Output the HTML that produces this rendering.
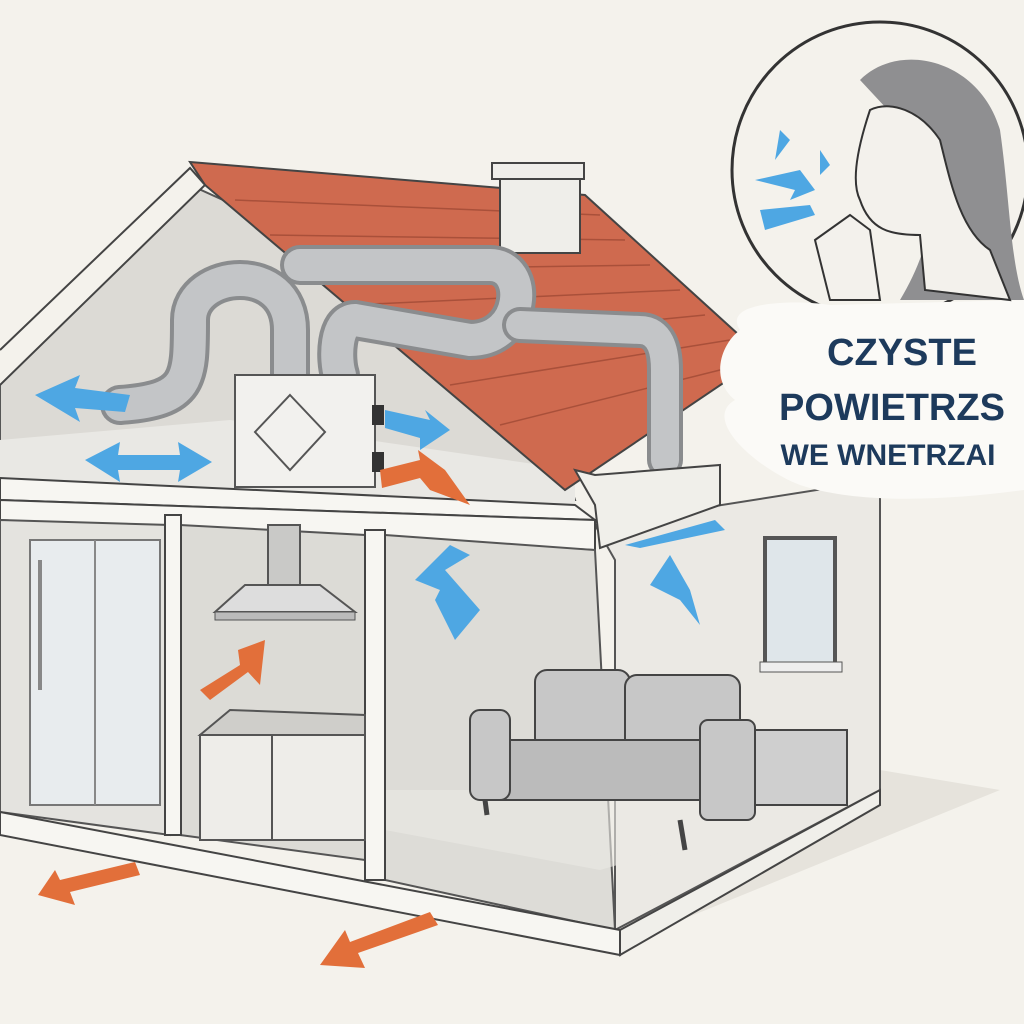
<!DOCTYPE html>
<html><head><meta charset="utf-8"><style>
html,body{margin:0;padding:0;background:#f4f2ec;}
svg{display:block}
text{font-family:"Liberation Sans",sans-serif;font-weight:bold;fill:#1d3a5c}
</style></head><body>
<svg width="1024" height="1024" viewBox="0 0 1024 1024" xmlns="http://www.w3.org/2000/svg">
<rect width="1024" height="1024" fill="#f4f2ec"/>
<!-- ground shadow -->
<polygon points="0,820 620,945 1000,790 880,770 610,930 0,810" fill="#e6e3dc"/>
<!-- right outer wall -->
<polygon points="595,525 880,480 880,790 615,930 615,560" fill="#ebe9e4" stroke="#555" stroke-width="2"/>
<!-- attic interior -->
<polygon points="0,380 190,185 245,210 565,470 575,500 0,480" fill="#dcdad5" stroke="#555" stroke-width="2"/>
<polygon points="0,440 230,420 575,470 575,505 0,480" fill="#e9e8e4"/>
<!-- roof -->
<polygon points="190,162 585,195 750,345 750,365 565,490 205,185" fill="#cf6a4f" stroke="#444" stroke-width="2"/>
<g stroke="#a9503a" stroke-width="1.5">
<line x1="235" y1="200" x2="600" y2="215"/><line x1="270" y1="235" x2="625" y2="240"/>
<line x1="310" y1="270" x2="650" y2="265"/><line x1="350" y1="305" x2="680" y2="290"/>
<line x1="400" y1="345" x2="705" y2="315"/><line x1="450" y1="385" x2="730" y2="340"/>
<line x1="500" y1="425" x2="740" y2="365"/>
</g>
<!-- chimney -->
<rect x="500" y="175" width="80" height="78" fill="#efeeea" stroke="#444" stroke-width="2"/>
<rect x="492" y="163" width="92" height="16" fill="#efeeea" stroke="#444" stroke-width="2"/>
<!-- gable trim -->
<polyline points="0,350 190,168 205,185 0,385" fill="#f4f2ec" stroke="#444" stroke-width="2"/>
<!-- ducts -->
<g fill="none" stroke-linecap="round">
<path d="M120,405 C190,400 190,380 190,320 C190,270 290,260 290,330 L290,380" stroke="#8a8c8e" stroke-width="40"/>
<path d="M120,405 C190,400 190,380 190,320 C190,270 290,260 290,330 L290,380" stroke="#c3c5c7" stroke-width="32"/>
<path d="M300,265 L490,265 C530,265 525,340 470,340 L355,320 C335,320 335,360 340,375" stroke="#8a8c8e" stroke-width="40"/>
<path d="M300,265 L490,265 C530,265 525,340 470,340 L355,320 C335,320 335,360 340,375" stroke="#c3c5c7" stroke-width="32"/>
<path d="M520,325 L640,330 C660,330 665,350 665,370 L665,460" stroke="#8a8c8e" stroke-width="36"/>
<path d="M520,325 L640,330 C660,330 665,350 665,370 L665,460" stroke="#c3c5c7" stroke-width="28"/>
</g>
<!-- unit -->
<rect x="235" y="375" width="140" height="112" fill="#f2f1ee" stroke="#555" stroke-width="2"/>
<polygon points="290,395 325,432 290,470 255,432" fill="none" stroke="#555" stroke-width="2"/>
<rect x="372" y="405" width="12" height="20" fill="#333"/><rect x="372" y="452" width="12" height="20" fill="#333"/>
<!-- floor slab -->
<polygon points="0,478 575,505 595,520 0,500" fill="#f7f6f2" stroke="#444" stroke-width="2"/>
<polygon points="575,470 595,475 720,465 720,505 600,548 595,505" fill="#f0efea" stroke="#444" stroke-width="2"/>
<polygon points="0,500 595,520 595,550 0,520" fill="#f7f6f2" stroke="#444" stroke-width="2"/>
<!-- rooms -->
<polygon points="0,520 170,525 170,835 0,812" fill="#e4e3df" stroke="#555" stroke-width="2"/>
<polygon points="180,525 365,535 365,860 180,835" fill="#dcdbd6" stroke="#555" stroke-width="2"/>
<polygon points="385,535 595,550 615,930 385,880" fill="#dddcd7" stroke="#555" stroke-width="2"/>
<polygon points="385,830 600,870 880,790 385,790" fill="#ebe9e4" opacity=".6"/>
<!-- walls posts -->
<rect x="165" y="515" width="16" height="320" fill="#f7f6f2" stroke="#444" stroke-width="2"/>
<rect x="365" y="530" width="20" height="350" fill="#f7f6f2" stroke="#444" stroke-width="2"/>
<!-- bottom slab -->
<polygon points="0,812 620,930 620,955 0,835" fill="#f7f6f2" stroke="#444" stroke-width="2"/>
<polygon points="620,930 880,790 880,805 620,955" fill="#f0efea" stroke="#444" stroke-width="2"/>
<!-- shower -->
<rect x="30" y="540" width="130" height="265" fill="#e8ecee" stroke="#777" stroke-width="2"/>
<line x1="95" y1="540" x2="95" y2="805" stroke="#888" stroke-width="2"/>
<line x1="40" y1="560" x2="40" y2="690" stroke="#888" stroke-width="4"/>
<!-- hood -->
<rect x="268" y="525" width="32" height="60" fill="#c9c9c7" stroke="#555" stroke-width="2"/>
<polygon points="245,585 320,585 355,612 215,612" fill="#ddd" stroke="#555" stroke-width="2"/>
<rect x="215" y="612" width="140" height="8" fill="#bbb" stroke="#555"/>
<!-- cabinet -->
<polygon points="200,735 230,710 365,715 365,740" fill="#cfceca" stroke="#555" stroke-width="2"/>
<rect x="200" y="735" width="165" height="105" fill="#eeede9" stroke="#555" stroke-width="2"/>
<line x1="272" y1="735" x2="272" y2="840" stroke="#555" stroke-width="2"/>
<!-- window -->
<rect x="765" y="538" width="70" height="128" fill="#dfe6ea" stroke="#555" stroke-width="4"/>
<rect x="760" y="662" width="82" height="10" fill="#eee" stroke="#555"/>
<!-- sofa -->
<rect x="535" y="670" width="95" height="80" rx="12" fill="#c7c7c7" stroke="#444" stroke-width="2"/>
<rect x="625" y="675" width="115" height="80" rx="12" fill="#c7c7c7" stroke="#444" stroke-width="2"/>
<rect x="485" y="740" width="270" height="60" fill="#bbb" stroke="#444" stroke-width="2"/>
<rect x="470" y="710" width="40" height="90" rx="10" fill="#c7c7c7" stroke="#444" stroke-width="2"/>
<rect x="700" y="720" width="55" height="100" rx="8" fill="#c7c7c7" stroke="#444" stroke-width="2"/>
<rect x="755" y="730" width="92" height="75" fill="#cfcfcf" stroke="#444" stroke-width="2"/>
<line x1="680" y1="820" x2="685" y2="850" stroke="#444" stroke-width="5"/>
<line x1="485" y1="800" x2="487" y2="815" stroke="#444" stroke-width="5"/>
<!-- arrows blue -->
<g fill="#4ea7e3">
<polygon points="35,395 80,375 75,388 130,395 125,412 75,408 80,422"/>
<polygon points="85,460 120,442 118,455 180,455 178,442 212,462 178,482 180,470 118,470 120,482"/>
<polygon points="385,410 430,420 425,410 450,430 420,450 420,438 385,428"/>
<polygon points="415,580 450,545 470,555 445,570 480,610 455,640 435,600 440,590"/>
<polygon points="625,545 715,520 725,530 640,548"/>
<polygon points="650,585 670,555 690,590 700,625 680,600"/>
</g>
<!-- arrows orange -->
<g fill="#e26f3a">
<polygon points="380,470 420,460 418,450 445,470 470,505 430,490 420,478 382,488"/>
<polygon points="200,690 240,665 238,650 265,640 260,685 248,672 210,700"/>
<polygon points="38,895 55,870 60,880 135,862 140,875 70,892 75,905"/>
<polygon points="320,965 345,930 350,942 430,912 438,925 358,953 365,968"/>
</g>
<!-- bubble -->
<circle cx="880" cy="170" r="148" fill="#f4f2ec" stroke="#333" stroke-width="3"/>
<path d="M740,330 C720,300 800,300 830,305 L1024,300 L1024,490 C950,500 860,505 800,485 C760,470 700,420 735,400 C710,380 720,345 740,330Z" fill="#fbfaf7"/>
<!-- woman simplified -->
<path d="M860,80 C900,40 980,60 1000,130 C1010,200 1010,260 1024,300 L900,300 C930,250 940,200 925,150 Z" fill="#8f8f91"/>
<path d="M870,110 C860,140 850,180 860,200 C870,230 890,235 920,235 L925,290 L1010,300 L990,250 C960,230 950,180 940,140 C920,110 890,100 870,110Z" fill="#f3f1ec" stroke="#333" stroke-width="2"/>
<path d="M815,240 L850,215 L870,230 L880,300 L830,300Z" fill="#f3f1ec" stroke="#333" stroke-width="2"/>
<g fill="#4ea7e3">
<polygon points="755,180 800,170 815,190 790,200 795,190"/>
<polygon points="760,210 810,205 815,215 765,230"/>
<polygon points="780,130 790,140 775,160"/>
<polygon points="820,150 830,165 820,175"/>
</g>
<text x="902" y="365" font-size="38" text-anchor="middle">CZYSTE</text>
<text x="892" y="420" font-size="38" text-anchor="middle">POWIETRZS</text>
<text x="888" y="465" font-size="30" text-anchor="middle">WE WNETRZAI</text>
</svg>
</body></html>
